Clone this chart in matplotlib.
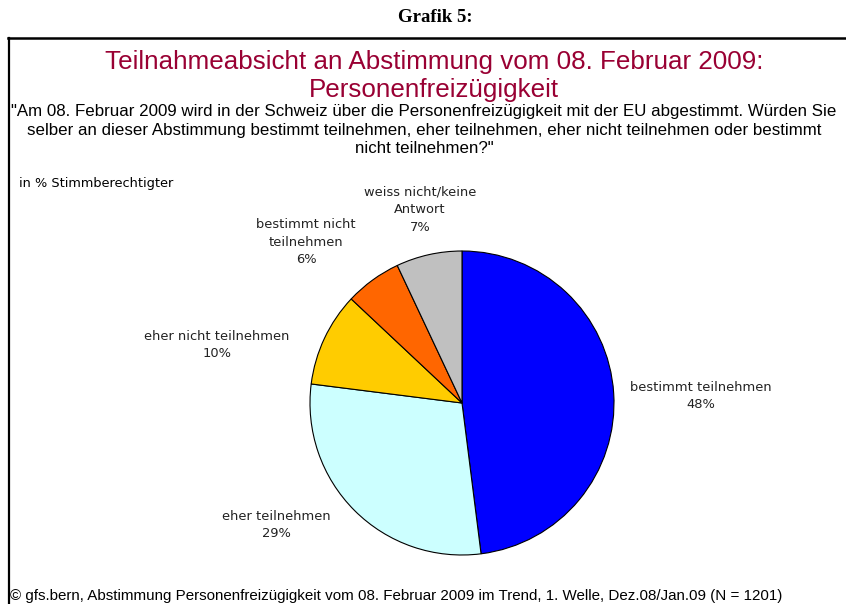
import matplotlib.pyplot as plt
from matplotlib.lines import Line2D

# --- data ---
categories = ['bestimmt teilnehmen', 'eher teilnehmen', 'eher nicht teilnehmen',
              'bestimmt nicht\nteilnehmen', 'weiss nicht/keine\nAntwort']
values = [48, 29, 10, 6, 7]
colors = ['#0000FF', '#CCFFFF', '#FFCC00', '#FF6600', '#C0C0C0']

# label centres in pie-radius units (manual placement as in the original)
label_pos = [(1.572, 0.046), (-1.224, -0.803), (-1.612, 0.382),
             (-1.026, 1.059), (-0.276, 1.270)]

W, H = 846, 604
fig = plt.figure(figsize=(W / 100, H / 100), dpi=100)

narrow = 'Liberation Sans'

# frame (top and left edges, the rest is cut off)
fig.add_artist(Line2D([8 / W, 1], [1 - 38 / H, 1 - 38 / H], color='black', lw=1.8))
fig.add_artist(Line2D([9 / W, 9 / W], [1 - 38 / H, 0], color='black', lw=1.6))

fig.text(435 / W, 1 - 17 / H, 'Grafik 5:', ha='center', va='center',
         fontsize=13.5, fontweight='bold', family='Liberation Serif')
fig.text(434 / W, 1 - 76 / H,
         'Teilnahmeabsicht an Abstimmung vom 08. Februar 2009:\nPersonenfreizügigkeit',
         ha='center', va='center', fontsize=18.7, color='#990033', family=narrow,
         linespacing=1.18)
fig.text(424 / W, 1 - 130 / H,
         '"Am 08. Februar 2009 wird in der Schweiz über die Personenfreizügigkeit mit der EU abgestimmt. Würden Sie\n'
         'selber an dieser Abstimmung bestimmt teilnehmen, eher teilnehmen, eher nicht teilnehmen oder bestimmt\n'
         'nicht teilnehmen?"',
         ha='center', va='center', fontsize=12.2, family=narrow, linespacing=1.3)
fig.text(19 / W, 1 - 184 / H, 'in % Stimmberechtigter', ha='left', va='center',
         fontsize=9.3, family='DejaVu Sans')
fig.text(10 / W, 1 - 596 / H,
         '© gfs.bern, Abstimmung Personenfreizügigkeit vom 08. Februar 2009 im Trend, 1. Welle, Dez.08/Jan.09 (N = 1201)',
         ha='left', va='center', fontsize=10.9, family=narrow)

# pie
cx, cy, r = 462, 403, 152
ax = fig.add_axes([(cx - r) / W, (H - cy - r) / H, 2 * r / W, 2 * r / H])
ax.pie(values, colors=colors, startangle=90, counterclock=False,
       wedgeprops=dict(edgecolor='black', linewidth=0.8))
ax.set_xlim(-1, 1)
ax.set_ylim(-1, 1)
ax.set_aspect('equal')
ax.axis('off')

for cat, val, (lx, ly) in zip(categories, values, label_pos):
    ax.text(lx, ly, f'{cat}\n{val}%', ha='center', va='center', fontsize=9.4,
            family='DejaVu Sans', color='#222222', linespacing=1.45, clip_on=False)

fig.savefig('out.png', dpi=100)
